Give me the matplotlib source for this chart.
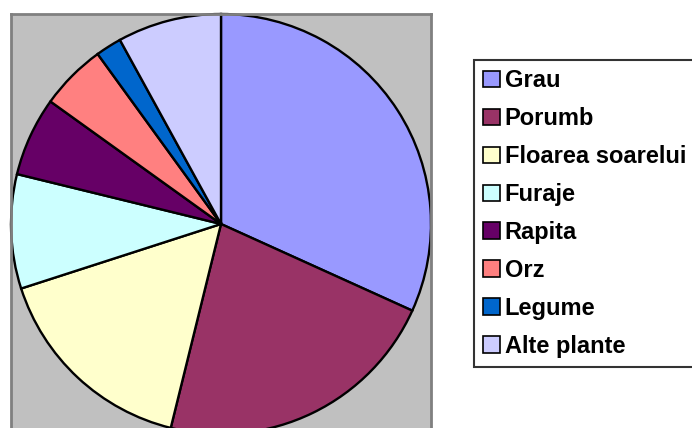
import matplotlib
matplotlib.use("Agg")
from matplotlib import pyplot as plt

# crop shares (percent)
labels = ["Grau", "Porumb", "Floarea soarelui", "Furaje", "Rapita", "Orz", "Legume", "Alte plante"]
values = [31.8, 22.1, 16.2, 8.8, 6.1, 5.1, 2.0, 8.0]
colors = ["#9999FF", "#993366", "#FFFFCC", "#CCFFFF", "#660066", "#FF8080", "#0066CC", "#CCCCFF"]

plt.rcParams['font.family'] = ['Liberation Sans', 'DejaVu Sans']

W, H = 692, 428
fig = plt.figure(figsize=(W / 100, H / 100), dpi=100)
fig.patch.set_facecolor("white")

# plot area: gray box, pie runs off the bottom of the picture
ax = fig.add_axes([11 / W, -12 / H, 420 / W, 426 / H])

wedges, _ = ax.pie(values, colors=colors, startangle=90, counterclock=False,
                   radius=1.0, center=(0, 0),
                   wedgeprops=dict(edgecolor="black", linewidth=1.7))
ax.set_frame_on(True)
ax.set_facecolor("#C0C0C0")
ax.set_aspect("auto")
ax.set_xlim(-1.0, 1.0)
ax.set_ylim(-216 / 210, 1.0)
for s in ax.spines.values():
    s.set_visible(True)
    s.set_color("#808080")
    s.set_linewidth(2)
ax.set_xticks([])
ax.set_yticks([])

leg = fig.legend(wedges, labels, loc="upper left",
                 bbox_to_anchor=(474 / W, 1 - 60 / H),
                 prop=dict(weight="bold", size=17),
                 frameon=True, fancybox=False, shadow=False,
                 handlelength=0.7, handleheight=0.7, handletextpad=0.2,
                 labelspacing=0.63, borderpad=0.4, borderaxespad=0)
leg.get_frame().set_edgecolor("black")
leg.get_frame().set_linewidth(1.5)
for h in leg.legend_handles:
    h.set_edgecolor("black")
    h.set_linewidth(1.2)

fig.savefig("out.png", dpi=100)
